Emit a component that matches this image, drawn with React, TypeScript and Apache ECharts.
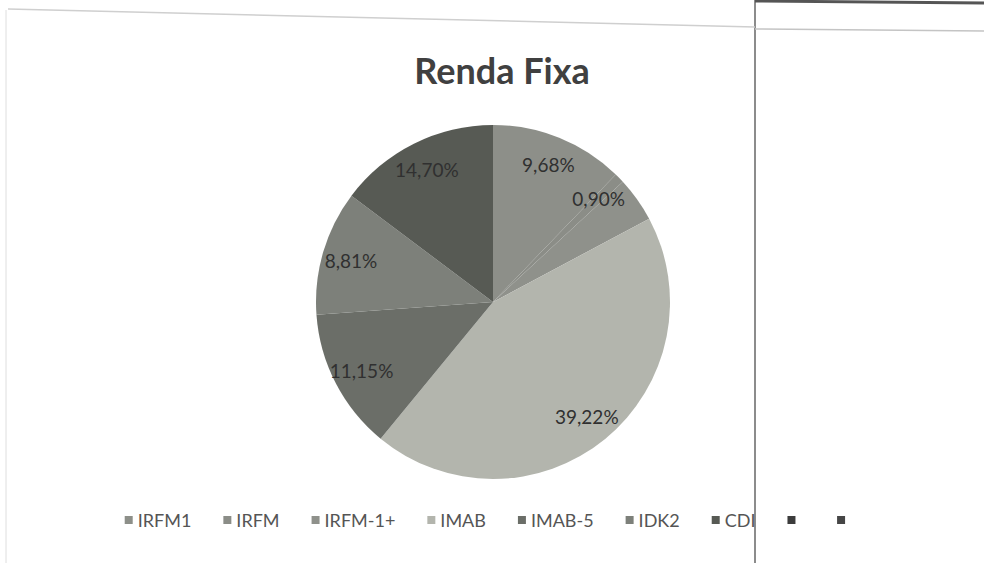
import React, { useEffect, useRef } from "react";
import * as echarts from "echarts";

// Categories as listed in the legend (the last two entries are blank in the original)
const categories = ["IRFM1", "IRFM", "IRFM-1+", "IMAB", "IMAB-5", "IDK2", "CDI", " ", "  "];
const shares = [12.2, 0.9, 4.1, 43.75, 12.9, 11.4, 14.75, 0, 0];
// Data labels as printed on the chart
const labelTexts = ["9,68%", "0,90%", "", "39,22%", "11,15%", "8,81%", "14,70%", "", ""];
const sliceColors = ["#8d8f89", "#8b8d87", "#8f918b", "#b3b5ad", "#6b6e68", "#7d807a", "#575a54", "#3c3c3c", "#464646"];

export default function App() {
  const ref = useRef<HTMLDivElement>(null);
  useEffect(() => {
    if (!ref.current) return;
    const chart = echarts.init(ref.current, undefined, { renderer: "svg" });
    const data = categories.map((name, i) => ({
      name,
      value: shares[i],
      itemStyle: { color: sliceColors[i] },
    }));
    chart.setOption({
      animation: false,
      backgroundColor: "#ffffff",
      title: {
        text: "Renda Fixa",
        left: 497,
        textAlign: "center",
        top: 47,
        textStyle: { fontFamily: "Lato", fontWeight: "bold", fontSize: 36, color: "#404040" },
      },
      legend: {
        data: categories,
        bottom: 29,
        left: "center",
        itemWidth: 8,
        itemHeight: 8,
        itemGap: 32,
        icon: "rect",
        textStyle: { fontFamily: "Lato", fontSize: 18, color: "#555555" },
      },
      graphic: [
        { type: "line", shape: { x1: 755, y1: 0, x2: 755, y2: 563 }, style: { stroke: "#8c8c8c", lineWidth: 2 } },
        { type: "line", shape: { x1: 8, y1: 9, x2: 755, y2: 27 }, style: { stroke: "#cfcfcf", lineWidth: 1.5 } },
        { type: "line", shape: { x1: 6, y1: 10, x2: 6, y2: 563 }, style: { stroke: "#dedede", lineWidth: 1 } },
        { type: "line", shape: { x1: 755, y1: 1, x2: 984, y2: 3 }, style: { stroke: "#555555", lineWidth: 3 } },
        { type: "line", shape: { x1: 755, y1: 29, x2: 984, y2: 31 }, style: { stroke: "#c4c4c4", lineWidth: 1.5 } },
      ],
      series: [
        {
          type: "pie",
          center: [493, 302],
          radius: [0, 177],
          startAngle: 90,
          clockwise: true,
          avoidLabelOverlap: false,
          label: { show: false },
          labelLine: { show: false },
          emphasis: { disabled: true },
          itemStyle: { borderWidth: 0 },
          data,
        },
        {
          type: "pie",
          center: [493, 302],
          radius: [125, 165],
          startAngle: 90,
          clockwise: true,
          silent: true,
          avoidLabelOverlap: false,
          emphasis: { disabled: true },
          itemStyle: { color: "rgba(0,0,0,0)", borderWidth: 0 },
          labelLine: { show: false },
          label: {
            show: true,
            position: "inside",
            fontFamily: "Lato",
            fontSize: 19,
            color: "#303030",
            formatter: (p: any) => labelTexts[p.dataIndex] || "",
          },
          data: categories.map((name, i) => ({ name, value: shares[i] })),
        },
      ],
    });
    return () => chart.dispose();
  }, []);
  return (
    <div
      ref={ref}
      style={{ position: "fixed", left: 0, top: 0, width: 984, height: 563 }}
    />
  );
}
